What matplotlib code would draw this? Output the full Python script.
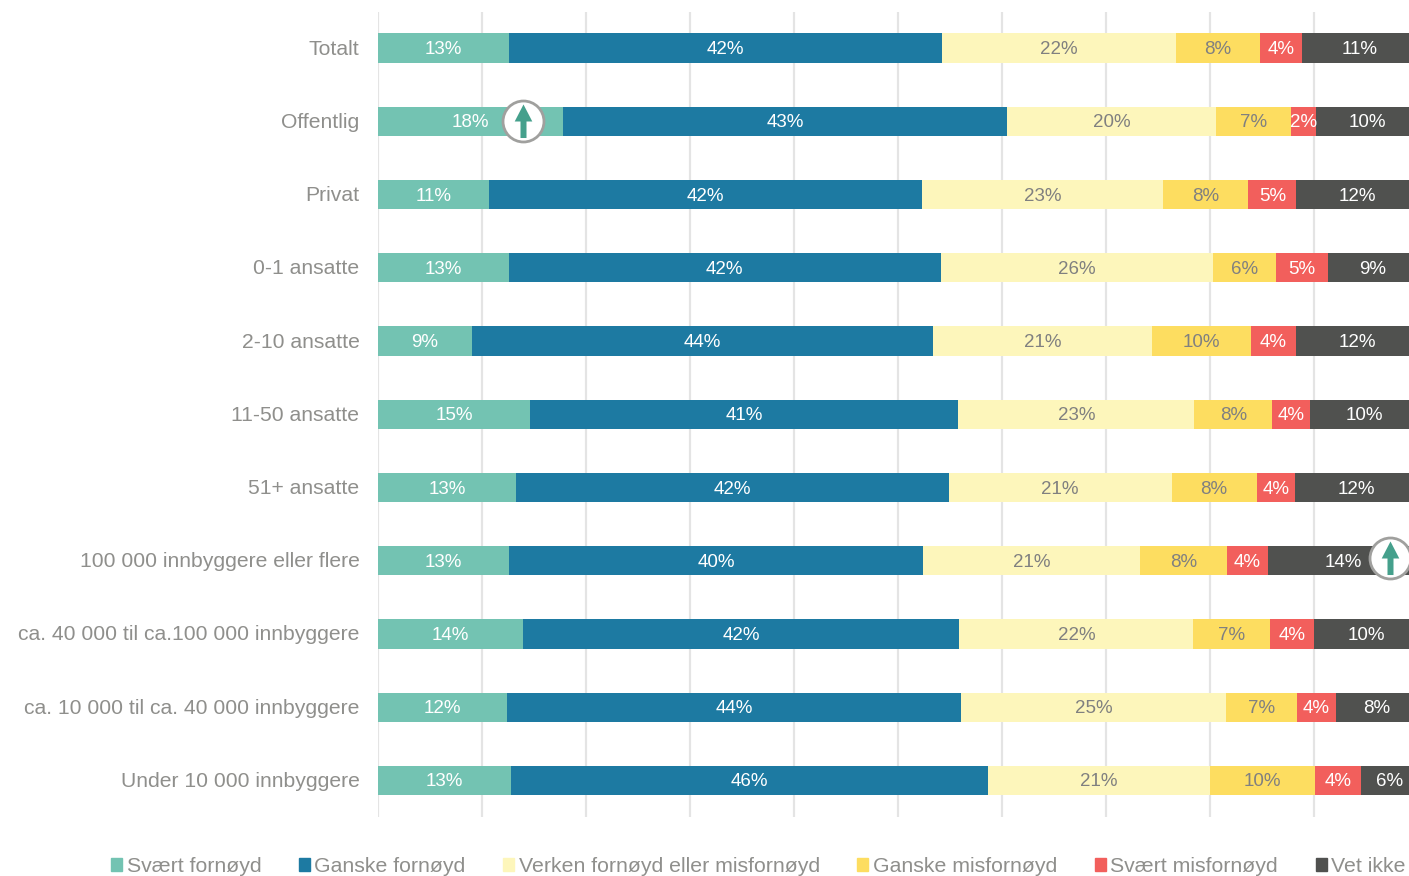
import matplotlib.pyplot as plt
from matplotlib.patches import Patch
from matplotlib.path import Path
from matplotlib.transforms import ScaledTranslation

plt.rcParams['font.family'] = ['Liberation Sans', 'DejaVu Sans']

# Data
kategorier = ['Totalt', 'Offentlig', 'Privat', '0-1 ansatte', '2-10 ansatte', '11-50 ansatte',
              '51+ ansatte', '100 000 innbyggere eller flere', 'ca. 40 000 til ca.100 000 innbyggere',
              'ca. 10 000 til ca. 40 000 innbyggere', 'Under 10 000 innbyggere']
serier = ['Svært fornøyd', 'Ganske fornøyd', 'Verken fornøyd eller misfornøyd',
          'Ganske misfornøyd', 'Svært misfornøyd', 'Vet ikke']
svaert_fornoyd = [12.6, 17.8, 10.7, 12.6, 9.0, 14.6, 13.3, 12.6, 13.9, 12.4, 12.8]
ganske_fornoyd = [41.6, 42.7, 41.6, 41.5, 44.4, 41.2, 41.6, 39.8, 42.0, 43.7, 45.9]
verken = [22.5, 20.1, 23.2, 26.2, 21.0, 22.7, 21.4, 20.9, 22.5, 25.4, 21.3]
ganske_misfornoyd = [8.1, 7.2, 8.2, 6.0, 9.5, 7.5, 8.2, 8.3, 7.4, 6.9, 10.1]
svaert_misfornoyd = [4.0, 2.4, 4.6, 5.0, 4.4, 3.6, 3.7, 4.0, 4.2, 3.7, 4.4]
vet_ikke = [11.2, 9.9, 11.7, 8.7, 11.7, 10.4, 11.8, 14.4, 10.0, 7.9, 5.6]
verdier = [svaert_fornoyd, ganske_fornoyd, verken, ganske_misfornoyd, svaert_misfornoyd, vet_ikke]

# Piler: (rad, x-verdi, forskyvning i rad)
piler = [(1, 13.95, -0.005), (7, 97.35, -0.04)]

farger = ['#73c3b2', '#1d7aa2', '#fdf6bb', '#fddd60', '#f25f5c', '#50514f']
tekstfarger = ['white', 'white', '#808080', '#808080', 'white', 'white']
GRA = '#8f8f8c'

fig = plt.figure(figsize=(14.09, 8.76), dpi=100)
# Aksen går til 100 %, litt utenfor høyre kant av bildet
ax = fig.add_axes([378 / 1409, 1 - 817 / 876, 1040 / 1409, 805.5 / 876])

rader = list(range(len(kategorier)))
venstre = [0] * len(kategorier)
for i, navn in enumerate(serier):
    ax.barh(rader, verdier[i], left=venstre, height=0.4, color=farger[i], zorder=2)
    for r in rader:
        v = verdier[i][r]
        ax.text(venstre[r] + v / 2, r + 0.022, f'{round(v)}%', ha='center', va='center',
                fontsize=13.5, color=tekstfarger[i], zorder=3)
    venstre = [a + b for a, b in zip(venstre, verdier[i])]

ax.set_xlim(0, 100)
ax.set_ylim(len(kategorier) - 0.5, -0.5)
ax.set_xticks(range(0, 100, 10))
ax.set_yticks(rader)
ax.set_yticklabels(kategorier, fontsize=15.2, color=GRA, va='center_baseline')
ax.tick_params(axis='both', length=0)
ax.tick_params(axis='y', pad=13.4)
ax.tick_params(axis='x', labelbottom=False)
ax.grid(axis='x', color='#e4e4e4', linewidth=1.6, zorder=0)
ax.grid(axis='y', visible=False)
for s in ax.spines.values():
    s.set_visible(False)

# Etikettene litt opp
for t in ax.get_yticklabels():
    t.set_transform(t.get_transform() + ScaledTranslation(0, 1 / 100, fig.dpi_scale_trans))

# Sirkel med pil opp
pil = Path([(-3, -16.5), (3, -16.5), (3, 0), (8.8, 0), (0, 17), (-8.8, 0), (-3, 0), (-3, -16.5)], closed=True)
for rad, x, dy in piler:
    ax.plot([x], [rad + dy], marker='o', markersize=29.5, markerfacecolor='white',
            markeredgecolor='#a0a09e', markeredgewidth=2, zorder=4, clip_on=False)
    ax.plot([x], [rad + dy], marker=pil, markersize=24.5, color='#45a08c',
            markeredgewidth=0, zorder=5, clip_on=False)

handles = [Patch(color=c, label=n) for c, n in zip(farger, serier)]
fig.legend(handles=handles, loc='lower left', bbox_to_anchor=(111 / 1409, 0), ncol=6, frameon=False,
           fontsize=15.3, labelcolor=GRA, handlelength=0.52, handleheight=0.52, handletextpad=0.22,
           columnspacing=1.76, borderaxespad=0, borderpad=0)

fig.savefig('out.png', dpi=100)
print('Gerado: out.png')
